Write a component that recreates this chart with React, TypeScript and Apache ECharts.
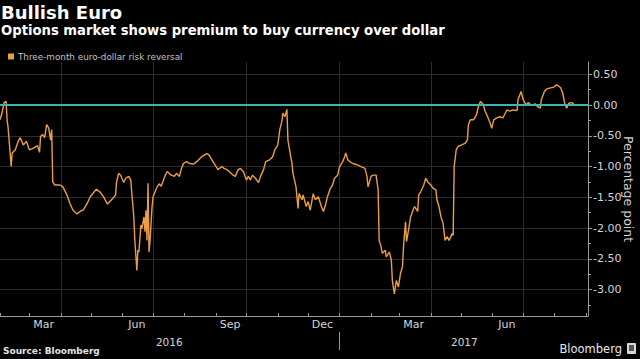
import React, { useEffect, useRef } from 'react';
import * as echarts from 'echarts';

const TITLE = 'Bullish Euro';
const SUBTITLE = 'Options market shows premium to buy currency over dollar';
const SERIES_NAME = 'Three-month euro-dollar risk reversal';
const SOURCE = 'Source: Bloomberg';
const Y_NAME = 'Percentage point';

const AXIS_START = '2016-02-01';
const AXIS_END = '2017-09-03';
const Y_MIN = -3.43;
const Y_MAX = 0.7;
const yTicks = [-3, -2.5, -2, -1.5, -1, -0.5, 0, 0.5];
const yMinorTicks = [-3.25, -2.75, -2.25, -1.75, -1.25, -0.75, -0.25, 0.25];
const monthLabels: Record<string, string> = { '03': 'Mar', '06': 'Jun', '09': 'Sep', '12': 'Dec' };
const quarterStarts = ['01', '04', '07', '10'];
const yearLabels: Record<string, string> = { '2016-07-17': '2016', '2017-05-04': '2017' };
const yearBoundary = '2017-01-01';

const dates = [
  '2016-02-01', '2016-02-03', '2016-02-05', '2016-02-07', '2016-02-08', '2016-02-09', '2016-02-11', '2016-02-12', '2016-02-13', '2016-02-16',
  '2016-02-19', '2016-02-21', '2016-02-24', '2016-02-27', '2016-03-01', '2016-03-05', '2016-03-09', '2016-03-11', '2016-03-12', '2016-03-14',
  '2016-03-16', '2016-03-18', '2016-03-20', '2016-03-22', '2016-03-23', '2016-03-24', '2016-03-26', '2016-03-31', '2016-04-03', '2016-04-07',
  '2016-04-10', '2016-04-13', '2016-04-17', '2016-04-20', '2016-04-23', '2016-04-27', '2016-04-30', '2016-05-03', '2016-05-06', '2016-05-10',
  '2016-05-13', '2016-05-17', '2016-05-21', '2016-05-25', '2016-05-26', '2016-05-28', '2016-05-30', '2016-06-02', '2016-06-04', '2016-06-07',
  '2016-06-09', '2016-06-10', '2016-06-12', '2016-06-13', '2016-06-15', '2016-06-16', '2016-06-17', '2016-06-19', '2016-06-20', '2016-06-22',
  '2016-06-23', '2016-06-24', '2016-06-25', '2016-06-26', '2016-06-27', '2016-06-28', '2016-06-30', '2016-07-01', '2016-07-05', '2016-07-07',
  '2016-07-09', '2016-07-13', '2016-07-15', '2016-07-19', '2016-07-22', '2016-07-24', '2016-07-27', '2016-07-29', '2016-07-31', '2016-08-03',
  '2016-08-06', '2016-08-10', '2016-08-13', '2016-08-18', '2016-08-23', '2016-08-25', '2016-08-28', '2016-08-31', '2016-09-03', '2016-09-07',
  '2016-09-09', '2016-09-12', '2016-09-14', '2016-09-18', '2016-09-20', '2016-09-23', '2016-09-25', '2016-09-28', '2016-10-01', '2016-10-03',
  '2016-10-05', '2016-10-07', '2016-10-10', '2016-10-13', '2016-10-15', '2016-10-18', '2016-10-20', '2016-10-24', '2016-10-27', '2016-10-29',
  '2016-11-01', '2016-11-03', '2016-11-05', '2016-11-06', '2016-11-08', '2016-11-10', '2016-11-11', '2016-11-13', '2016-11-15', '2016-11-16',
  '2016-11-19', '2016-11-21', '2016-11-22', '2016-11-25', '2016-11-26', '2016-11-29', '2016-12-01', '2016-12-03', '2016-12-06', '2016-12-08',
  '2016-12-11', '2016-12-14', '2016-12-16', '2016-12-18', '2016-12-20', '2016-12-23', '2016-12-25', '2016-12-27', '2016-12-30', '2017-01-01',
  '2017-01-04', '2017-01-06', '2017-01-07', '2017-01-09', '2017-01-11', '2017-01-14', '2017-01-18', '2017-01-22', '2017-01-26', '2017-01-28',
  '2017-01-29', '2017-02-01', '2017-02-03', '2017-02-06', '2017-02-08', '2017-02-09', '2017-02-11', '2017-02-12', '2017-02-15', '2017-02-16',
  '2017-02-19', '2017-02-21', '2017-02-22', '2017-02-24', '2017-02-26', '2017-02-28', '2017-03-02', '2017-03-04', '2017-03-05', '2017-03-07',
  '2017-03-08', '2017-03-10', '2017-03-12', '2017-03-15', '2017-03-16', '2017-03-19', '2017-03-20', '2017-03-22', '2017-03-25', '2017-03-27',
  '2017-03-29', '2017-04-01', '2017-04-03', '2017-04-06', '2017-04-07', '2017-04-09', '2017-04-11', '2017-04-13', '2017-04-15', '2017-04-17',
  '2017-04-19', '2017-04-22', '2017-04-23', '2017-04-24', '2017-04-26', '2017-04-28', '2017-05-01', '2017-05-05', '2017-05-07', '2017-05-08',
  '2017-05-10', '2017-05-13', '2017-05-16', '2017-05-18', '2017-05-20', '2017-05-23', '2017-05-24', '2017-05-27', '2017-05-29', '2017-05-31',
  '2017-06-02', '2017-06-05', '2017-06-08', '2017-06-11', '2017-06-15', '2017-06-18', '2017-06-21', '2017-06-25', '2017-06-26', '2017-06-29',
  '2017-07-01', '2017-07-04', '2017-07-06', '2017-07-09', '2017-07-13', '2017-07-15', '2017-07-18', '2017-07-19', '2017-07-22', '2017-07-24',
  '2017-07-28', '2017-07-31', '2017-08-03', '2017-08-05', '2017-08-07', '2017-08-09', '2017-08-11', '2017-08-13', '2017-08-15', '2017-08-18',
  '2017-08-20',
];

const values = [
  -0.24, -0.13, 0.04, 0.06, -0.24, -0.37, -0.78, -1.0, -0.78, -0.73,
  -0.59, -0.53, -0.65, -0.59, -0.73, -0.7, -0.66, -0.77, -0.51, -0.48,
  -0.53, -0.32, -0.37, -0.57, -0.4, -1.25, -1.3, -1.3, -1.33, -1.46,
  -1.6, -1.71, -1.77, -1.73, -1.71, -1.6, -1.49, -1.43, -1.37, -1.42,
  -1.49, -1.61, -1.54, -1.46, -1.25, -1.11, -1.14, -1.26, -1.19, -1.16,
  -1.22, -1.43, -1.82, -2.2, -2.69, -2.36, -2.39, -1.95, -2.01, -1.82,
  -2.06, -1.71, -2.2, -1.27, -2.39, -2.2, -1.65, -1.49, -1.33, -1.28,
  -1.32, -1.14, -1.08, -1.14, -1.16, -1.11, -1.16, -1.03, -0.95, -0.92,
  -0.95, -0.96, -0.92, -0.84, -0.79, -0.81, -0.89, -0.97, -1.05, -1.0,
  -1.03, -1.05, -1.08, -1.14, -1.16, -1.05, -1.03, -1.08, -1.22, -1.16,
  -1.22, -1.14, -1.19, -1.26, -1.16, -1.05, -0.92, -0.89, -0.84, -0.73,
  -0.65, -0.4, -0.27, -0.13, -0.19, -0.07, -0.57, -0.76, -0.95, -1.11,
  -1.33, -1.68, -1.44, -1.54, -1.46, -1.65, -1.57, -1.71, -1.44, -1.54,
  -1.49, -1.65, -1.73, -1.63, -1.49, -1.35, -1.3, -1.19, -1.14, -1.0,
  -0.92, -0.84, -0.78, -0.89, -0.92, -0.95, -0.97, -1.0, -1.03, -1.16,
  -1.33, -1.16, -1.14, -1.14, -1.38, -2.2, -2.31, -2.41, -2.36, -2.47,
  -2.39, -2.52, -2.85, -3.07, -2.85, -2.96, -2.74, -2.63, -2.31, -1.9,
  -2.22, -2.03, -1.82, -1.68, -1.65, -1.73, -1.46, -1.41, -1.3, -1.19,
  -1.25, -1.3, -1.35, -1.38, -1.54, -1.65, -1.82, -1.92, -2.2, -2.14,
  -2.2, -2.09, -2.12, -1.0, -0.73, -0.67, -0.65, -0.62, -0.57, -0.32,
  -0.24, -0.24, -0.16, -0.02, 0.06, 0.0, -0.08, -0.19, -0.27, -0.38,
  -0.24, -0.21, -0.19, -0.21, -0.08, -0.1, -0.08, -0.09, 0.09, 0.22,
  0.09, 0.0, 0.04, 0.0, 0.02, -0.02, -0.05, 0.09, 0.22, 0.26,
  0.28, 0.29, 0.33, 0.31, 0.28, 0.2, 0.03, -0.05, 0.03, 0.04,
  0.02,
];

const FONT = '"DejaVu Sans", Verdana, sans-serif';
const LINE_COLOR = '#ec9e42';
const ZERO_COLOR = '#3fb5ae';
const AXIS_COLOR = '#9a9a9a';
const GRID_COLOR = '#2c2c2c';
const LABEL_COLOR = '#d6d6d6';

function buildDays(start: string, end: string): string[] {
  const out: string[] = [];
  const [sy, sm, sd] = start.split('-').map(Number);
  const [ey, em, ed] = end.split('-').map(Number);
  let t = Date.UTC(sy, sm - 1, sd);
  const e = Date.UTC(ey, em - 1, ed);
  while (t <= e) {
    out.push(new Date(t).toISOString().slice(0, 10));
    t += 86400000;
  }
  return out;
}

function buildOption() {
  const days = buildDays(AXIS_START, AXIS_END);
  const index = new Map<string, number>();
  days.forEach((d, i) => index.set(d, i));
  const seriesData = dates.map((d, i) => [index.get(d), values[i]]);

  return {
    animation: false,
    backgroundColor: '#000000',
    textStyle: { fontFamily: FONT },
    legend: {
      left: 3,
      top: 47,
      itemWidth: 6,
      itemHeight: 6,
      itemGap: 10,
      selectedMode: false,
      textStyle: { color: '#c4c4c4', fontSize: 8.8, fontFamily: FONT, padding: [0, 0, 0, -1] },
      data: [{ name: SERIES_NAME, icon: 'rect' }],
    },
    grid: { left: 0, right: 52, top: 62, bottom: 43, containLabel: false, outerBoundsMode: 'none' },
    xAxis: [
      {
        type: 'category',
        data: days,
        boundaryGap: false,
        axisLine: { show: true, onZero: false, lineStyle: { color: AXIS_COLOR, width: 1 } },
        axisTick: {
          show: true,
          inside: true,
          length: 3,
          interval: (_i: number, v: string) => v.endsWith('-01'),
          lineStyle: { color: AXIS_COLOR },
        },
        axisLabel: {
          interval: (_i: number, v: string) => v.endsWith('-15') && monthLabels[v.slice(5, 7)] !== undefined,
          formatter: (v: string) => monthLabels[v.slice(5, 7)] || '',
          color: LABEL_COLOR,
          fontSize: 11,
          fontFamily: FONT,
          margin: 3,
        },
        splitLine: {
          show: true,
          interval: (_i: number, v: string) => v.endsWith('-01') && quarterStarts.includes(v.slice(5, 7)),
          lineStyle: { color: GRID_COLOR, width: 1 },
        },
      },
      {
        type: 'category',
        data: days,
        boundaryGap: false,
        position: 'bottom',
        offset: 16,
        axisLine: { show: false, onZero: false },
        axisTick: {
          show: true,
          length: 18,
          interval: (_i: number, v: string) => v === yearBoundary,
          lineStyle: { color: AXIS_COLOR },
        },
        axisLabel: {
          interval: (_i: number, v: string) => yearLabels[v] !== undefined,
          formatter: (v: string) => yearLabels[v] || '',
          color: LABEL_COLOR,
          fontSize: 10.5,
          fontFamily: FONT,
          margin: 4,
        },
        splitLine: { show: false },
      },
    ],
    yAxis: [
      {
        type: 'value',
        position: 'right',
        min: Y_MIN,
        max: Y_MAX,
        axisLine: { show: true, onZero: false, lineStyle: { color: AXIS_COLOR, width: 1 } },
        axisTick: { show: true, length: 4, customValues: yTicks, lineStyle: { color: AXIS_COLOR } },
        axisLabel: {
          customValues: yTicks,
          formatter: (v: number) => v.toFixed(2),
          color: LABEL_COLOR,
          fontSize: 11,
          fontFamily: FONT,
          margin: 5,
        },
        splitLine: { show: true, lineStyle: { color: GRID_COLOR, width: 1 } },
        name: Y_NAME,
        nameLocation: 'middle',
        nameRotate: -90,
        nameGap: 34,
        nameMoveOverlap: false,
        nameTextStyle: { color: LABEL_COLOR, fontSize: 12.5, fontFamily: FONT },
      },
      {
        type: 'value',
        position: 'right',
        min: Y_MIN,
        max: Y_MAX,
        axisLine: { show: false, onZero: false },
        axisTick: { show: true, length: 3, customValues: yMinorTicks, lineStyle: { color: AXIS_COLOR } },
        axisLabel: { show: false },
        splitLine: { show: false },
      },
    ],
    series: [
      {
        name: SERIES_NAME,
        type: 'line',
        xAxisIndex: 0,
        yAxisIndex: 0,
        data: seriesData,
        showSymbol: false,
        symbol: 'none',
        lineStyle: { color: LINE_COLOR, width: 1.4 },
        itemStyle: { color: LINE_COLOR },
        z: 3,
        markLine: {
          silent: true,
          symbol: 'none',
          label: { show: false },
          lineStyle: { color: ZERO_COLOR, width: 2, type: 'solid' },
          data: [{ yAxis: 0 }],
        },
      },
    ],
    graphic: [
      {
        type: 'text',
        x: 1,
        y: 12,
        style: { text: TITLE, fill: '#ffffff', fontSize: 18, fontWeight: 'bold', fontFamily: FONT, verticalAlign: 'middle' },
      },
      {
        type: 'text',
        x: 1,
        y: 30,
        style: { text: SUBTITLE, fill: '#ffffff', fontSize: 13.2, fontWeight: 'bold', fontFamily: FONT, verticalAlign: 'middle' },
      },
      {
        type: 'text',
        x: 3,
        y: 351,
        style: { text: SOURCE, fill: '#e0e0e0', fontSize: 9, fontWeight: 'bold', fontFamily: FONT, verticalAlign: 'middle' },
      },
      {
        type: 'text',
        x: 622,
        y: 349,
        style: { text: 'Bloomberg', fill: '#e8e8e8', fontSize: 11.5, fontFamily: FONT, align: 'right', verticalAlign: 'middle' },
      },
      {
        type: 'rect',
        shape: { x: 627, y: 343, width: 9, height: 11, r: 1 },
        style: { fill: '#d8d8d8' },
      },
      {
        type: 'rect',
        shape: { x: 629, y: 345, width: 5, height: 6 },
        style: { fill: '#555555' },
      },
    ],
  };
}

export default function App() {
  const ref = useRef<HTMLDivElement>(null);
  useEffect(() => {
    document.body.style.margin = '0';
    document.body.style.background = '#000';
    if (!ref.current) return;
    const chart = echarts.init(ref.current, null, { renderer: 'svg' });
    chart.setOption(buildOption() as any);
    return () => chart.dispose();
  }, []);
  return <div ref={ref} style={{ width: 640, height: 359, background: '#000' }} />;
}
